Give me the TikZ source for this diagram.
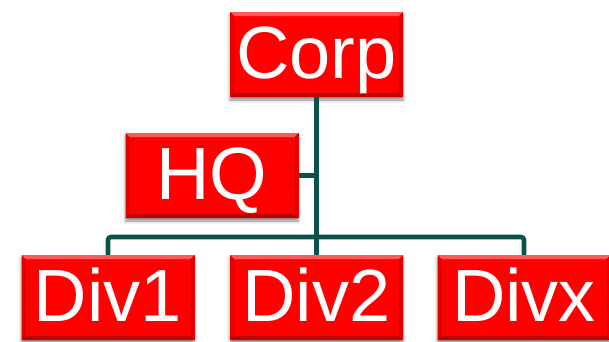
\documentclass[tikz,border=0pt]{standalone}
\usepackage{fontspec}
\setmainfont{Liberation Sans}
\usetikzlibrary{shadows.blur,calc}
\definecolor{boxred}{RGB}{255,0,0}
\definecolor{bevlight}{RGB}{255,90,90}
\definecolor{bevdark}{RGB}{190,0,0}
\definecolor{bevside}{RGB}{225,0,0}
\definecolor{teal}{RGB}{10,82,78}
\begin{document}
\begin{tikzpicture}[x=1pt,y=1pt,
  orgbox/.style={rectangle, fill=boxred, inner sep=0pt,
    minimum width=173pt, minimum height=85pt,
    text=white, font=\fontsize{74}{74}\selectfont,
    text height=53pt, text depth=5pt,
    blur shadow={shadow xshift=0pt, shadow yshift=-3pt, shadow blur radius=3pt, shadow opacity=45},
    path picture={
      \coordinate (ll) at (path picture bounding box.south west);
      \coordinate (ur) at (path picture bounding box.north east);
      \fill[bevlight] (ll |- ur) -- (ur) -- ++(-4,-4) -- ($(ll |- ur)+(4,-4)$) -- cycle;
      \fill[bevdark] (ll) -- (ll -| ur) -- ++(-4,4) -- ($(ll)+(4,4)$) -- cycle;
      \fill[bevside] (ll) -- ++(4,4) -- ($(ll |- ur)+(4,-4)$) -- (ll |- ur) -- cycle;
      \fill[bevside] (ll -| ur) -- ++(-4,4) -- ($(ur)+(-4,-4)$) -- (ur) -- cycle;
    }},
  conn/.style={draw=teal, line width=4.6pt}
]
\useasboundingbox (0,0) rectangle (609,-341);
\node[orgbox] (corp) at (316.5,-54.5) {Corp};
\node[orgbox] (hq) at (212,-175.5) {HQ};
\node[orgbox] (div1) at (108,-297.5) {Div1};
\node[orgbox] (div2) at (316.5,-297.5) {Div2};
\node[orgbox] (divx) at (524,-297.5) {Divx};
\coordinate (bar) at (316.5,-237);
\draw[conn] (corp.south) -- (corp.south |- div2.north);
\draw[conn] (hq.east) -- (hq.east -| corp.south);
\draw[conn, rounded corners=3pt] (div1.north) |- (bar) -| (divx.north);
\end{tikzpicture}
\end{document}
